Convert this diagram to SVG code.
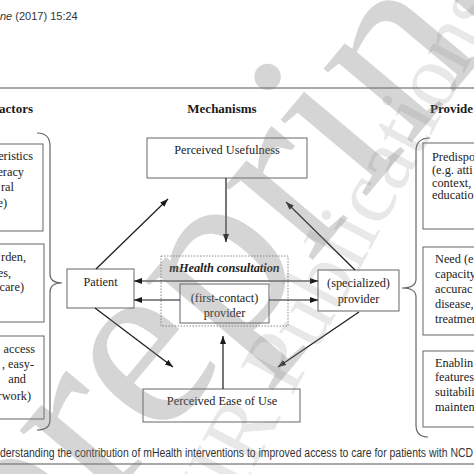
<svg xmlns="http://www.w3.org/2000/svg" width="474" height="474" viewBox="0 0 474 474">
<defs>
<marker id="ah" markerUnits="userSpaceOnUse" markerWidth="9" markerHeight="7" refX="8" refY="3" orient="auto-start-reverse">
<path d="M0,0 L8,3 L0,6 z" fill="#1a1a1a"/>
</marker>
<style>
.t{font-family:"Liberation Serif","Times New Roman",serif;font-size:12.3px;fill:#222}
.h{font-family:"Liberation Serif","Times New Roman",serif;font-size:13px;font-weight:bold;fill:#1a1a1a}
.s{font-family:"Liberation Sans",Arial,sans-serif;fill:#333}
.box{fill:#fff;stroke:#666;stroke-width:1}
.ln{stroke:#1a1a1a;stroke-width:1.2;fill:none}
.br{stroke:#666;stroke-width:1.2;fill:none}
.wm{font-family:"Liberation Serif","Times New Roman",serif;fill:#808080}
</style>
</defs>
<rect width="474" height="474" fill="#fff"/>
<text class="s" x="0" y="20" font-size="11"><tspan font-style="italic">ne</tspan> (2017) 15:24</text>
<line x1="0" y1="88" x2="474" y2="88" stroke="#555" stroke-width="1.2"/>
<text class="h" x="33" y="113" text-anchor="end">actors</text>
<text class="h" x="222" y="113" text-anchor="middle">Mechanisms</text>
<text class="h" x="430" y="113">Provide</text>

<g id="left-box-1"><rect class="box" x="-20" y="144" width="63" height="87"/>
<text class="t" text-anchor="end"><tspan x="33" y="160">eristics</tspan><tspan x="24" y="176">eracy</tspan><tspan x="14" y="191">ral</tspan><tspan x="7" y="207">e)</tspan></text></g>
<g id="left-box-2"><rect class="box" x="-20" y="244" width="64" height="78"/>
<text class="t" text-anchor="end"><tspan x="26" y="261">rden,</tspan><tspan x="11" y="277">es,</tspan><tspan x="24" y="291">care)</tspan></text></g>
<g id="left-box-3"><rect class="box" x="-20" y="336" width="64" height="83"/>
<text class="t" text-anchor="end"><tspan x="35" y="353">access</tspan><tspan x="34" y="368">, easy-</tspan><tspan x="26" y="383">and</tspan><tspan x="31" y="400">rwork)</tspan></text></g>
<g id="left-brace"><path class="br" d="M37,133 Q50,133 50,146 L50,274 Q50,283 62,283 Q50,283 50,292 L50,420 Q50,430 37,430"/></g>

<g id="right-box-1"><rect class="box" x="423" y="143" width="70" height="86"/>
<text class="t" font-size="12"><tspan x="432" y="161">Predispo</tspan><tspan x="432" y="174">(e.g. atti</tspan><tspan x="432" y="187">context,</tspan><tspan x="432" y="199">educatio</tspan></text></g>
<g id="right-box-2"><rect class="box" x="423" y="247" width="70" height="88"/>
<text class="t"><tspan x="435" y="263">Need (e</tspan><tspan x="435" y="278">capacity</tspan><tspan x="435" y="293">accurac</tspan><tspan x="435" y="308">disease,</tspan><tspan x="435" y="323">treatmen</tspan></text></g>
<g id="right-box-3"><rect class="box" x="423" y="351" width="70" height="76"/>
<text class="t"><tspan x="435" y="367">Enablin</tspan><tspan x="435" y="381">features</tspan><tspan x="435" y="396">suitabili</tspan><tspan x="435" y="411">mainten</tspan></text></g>
<g id="right-brace"><path class="br" d="M430,138 Q416,138 416,151 L416,279 Q416,288 402,288 Q416,288 416,297 L416,425 Q416,437 428,437"/></g>

<g id="perceived-usefulness"><rect class="box" x="147" y="138" width="160" height="40"/>
<text class="t" x="227" y="154" text-anchor="middle">Perceived Usefulness</text></g>
<g id="mhealth-consultation"><rect x="161" y="256" width="127" height="70" fill="none" stroke="#888" stroke-width="1" stroke-dasharray="1.5,1.5"/>
<text class="t" x="224.5" y="272" text-anchor="middle" font-weight="bold" font-style="italic">mHealth consultation</text></g>
<g id="first-contact-provider"><rect class="box" x="180" y="284" width="89" height="39"/>
<text class="t" text-anchor="middle"><tspan x="224.5" y="302">(first-contact)</tspan><tspan x="224.5" y="317">provider</tspan></text></g>
<g id="patient"><rect class="box" x="67" y="269" width="67" height="39"/>
<text class="t" x="100.5" y="286" text-anchor="middle">Patient</text></g>
<g id="specialized-provider"><rect class="box" x="318" y="270" width="81" height="41"/>
<text class="t" text-anchor="middle"><tspan x="358.5" y="287">(specialized)</tspan><tspan x="358.5" y="303">provider</tspan></text></g>
<g id="perceived-ease-of-use"><rect class="box" x="143" y="389" width="157" height="33"/>
<text class="t" x="222" y="405" text-anchor="middle">Perceived Ease of Use</text></g>

<g id="connectors">
<line class="ln" x1="226" y1="178" x2="226" y2="242" marker-end="url(#ah)"/>
<line class="ln" x1="223" y1="389" x2="223" y2="336" marker-end="url(#ah)"/>
<line class="ln" x1="134" y1="281" x2="318" y2="281" marker-start="url(#ah)" marker-end="url(#ah)"/>
<line class="ln" x1="180" y1="300" x2="134" y2="300" marker-end="url(#ah)"/>
<line class="ln" x1="269" y1="300" x2="318" y2="300" marker-end="url(#ah)"/>
<line class="ln" x1="96" y1="269" x2="168" y2="199" marker-end="url(#ah)"/>
<line class="ln" x1="355" y1="270" x2="286" y2="202" marker-end="url(#ah)"/>
<line class="ln" x1="95" y1="308" x2="173" y2="367" marker-end="url(#ah)"/>
<line class="ln" x1="359" y1="312" x2="278" y2="367" marker-end="url(#ah)"/>
</g>
<text class="s" x="0" y="457" font-size="12" textLength="473" lengthAdjust="spacingAndGlyphs">derstanding the contribution of mHealth interventions to improved access to care for patients with NCD</text>
<line x1="0" y1="464" x2="474" y2="464" stroke="#555" stroke-width="1.2"/>
<g id="watermark">
<text class="wm" font-size="250" fill-opacity="0.33" transform="translate(24,604) rotate(-50)">preprint</text>
<text class="wm" font-size="90" fill-opacity="0.18" transform="translate(185,598) rotate(-62)">JMIR Publications</text>
</g>
</svg>
